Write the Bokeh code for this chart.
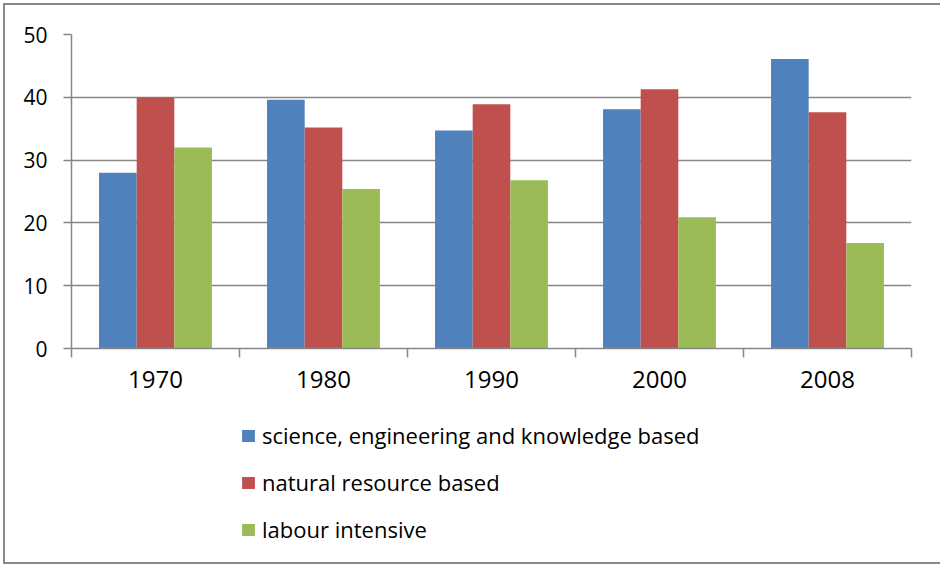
from bokeh.plotting import figure
from bokeh.layouts import column
from bokeh.models import ColumnDataSource, FixedTicker, Range1d, Legend, LegendItem
from bokeh.transform import dodge
from bokeh.embed import file_html
from bokeh.resources import INLINE

# ---- data ----
years = ["1970", "1980", "1990", "2000", "2008"]
science = [28.0, 39.6, 34.7, 38.1, 46.1]
natural = [40.0, 35.2, 38.9, 41.3, 37.6]
labour = [32.0, 25.4, 26.8, 20.9, 16.8]
series_names = ["science, engineering and knowledge based",
                "natural resource based",
                "labour intensive"]
series_keys = ["science", "natural", "labour"]
colors = ["#4F81BD", "#C0504D", "#9BBB59"]
y_ticks = [0, 10, 20, 30, 40, 50]

FONT = "Open Sans"
GRAY = "#868686"
BAR_W = 0.224

pos = [i + 0.5 for i in range(len(years))]
src = ColumnDataSource(dict(pos=pos, year=years, science=science,
                            natural=natural, labour=labour))

p = figure(width=936, height=400,
           x_range=Range1d(0, len(years)), y_range=Range1d(y_ticks[0], y_ticks[-1]),
           output_backend="svg", toolbar_location=None,
           min_border_left=66, min_border_right=30,
           min_border_top=29, min_border_bottom=57)
p.outline_line_color = None
p.background_fill_color = "white"
p.border_fill_color = "white"

renderers = []
offsets = [-BAR_W, 0.0, BAR_W]
for key, col, off in zip(series_keys, colors, offsets):
    r = p.vbar(x=dodge("pos", off, range=p.x_range), top=key, width=BAR_W,
               bottom=0, source=src, fill_color=col, line_color=None)
    renderers.append(r)

# grid
p.xgrid.grid_line_color = None
p.ygrid.ticker = FixedTicker(ticks=y_ticks)
p.ygrid.grid_line_color = GRAY
p.ygrid.grid_line_width = 1.5

# y axis
ya = p.yaxis[0]
ya.ticker = FixedTicker(ticks=y_ticks)
ya.axis_line_color = GRAY
ya.axis_line_width = 1.5
ya.major_tick_line_color = GRAY
ya.major_tick_line_width = 1.5
ya.major_tick_out = 8
ya.major_tick_in = 0
ya.minor_tick_line_color = None
ya.major_label_standoff = 16
ya.major_label_text_font = FONT
ya.major_label_text_font_size = "21px"
ya.major_label_text_color = "#000000"

# x axis
xa = p.xaxis[0]
xa.ticker = FixedTicker(ticks=pos, minor_ticks=list(range(len(years) + 1)))
xa.major_label_overrides = {pp: y for pp, y in zip(pos, years)}
xa.axis_line_color = GRAY
xa.axis_line_width = 1.5
xa.major_tick_line_color = None
xa.major_tick_out = 9
xa.major_tick_in = 0
xa.minor_tick_line_color = GRAY
xa.minor_tick_line_width = 1.5
xa.minor_tick_out = 9
xa.minor_tick_in = 0
xa.major_label_standoff = 13
xa.major_label_text_font = FONT
xa.major_label_text_font_size = "24px"
xa.major_label_text_color = "#000000"

# ---- legend strip below the chart ----
lg = figure(width=936, height=157, x_range=Range1d(0, len(years)), y_range=Range1d(0, 50),
            output_backend="svg", toolbar_location=None,
            min_border_left=0, min_border_right=0, min_border_top=0, min_border_bottom=0)
lg.axis.visible = False
lg.grid.visible = False
lg.outline_line_color = None
lg.background_fill_color = "white"
lg.border_fill_color = "white"

# legend-only renderers (hidden; they only supply the legend swatches)
swatches = []
for key, col in zip(series_keys, colors):
    swatches.append(lg.vbar(x="pos", top=key, width=BAR_W, source=src,
                            fill_color=col, line_color=None, visible=False))

legend = Legend(items=[LegendItem(label=n, renderers=[r]) for n, r in zip(series_names, swatches)],
                location=(169, 18), orientation="vertical",
                glyph_width=16, glyph_height=15, label_standoff=6,
                label_height=20, spacing=17, padding=0, margin=0,
                border_line_color=None, background_fill_alpha=0,
                inactive_fill_alpha=0, click_policy="none",
                label_text_font=FONT, label_text_font_size="22px",
                label_text_color="#000000")
lg.add_layout(legend)

layout = column(p, lg, spacing=0,
                styles={"border": "2px solid #898989", "margin": "3px 0 0 3px"})

open("out.html", "w").write(file_html(layout, INLINE))
